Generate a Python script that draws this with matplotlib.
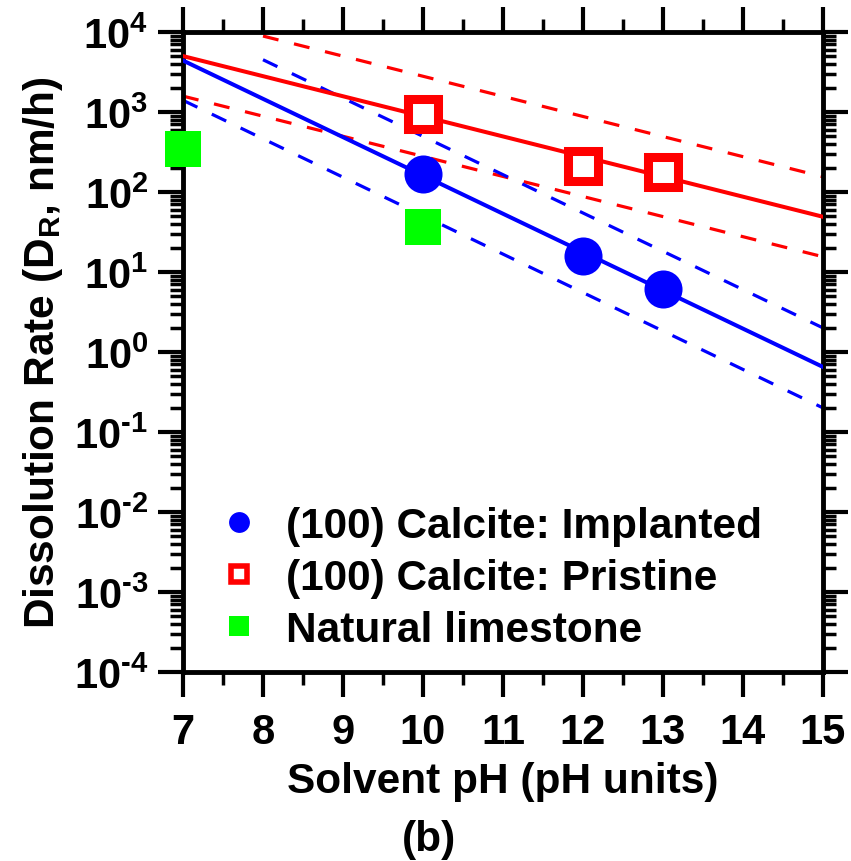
import numpy as np
import matplotlib
matplotlib.use('Agg')
import matplotlib.pyplot as plt
from matplotlib.ticker import FuncFormatter, LogLocator, MultipleLocator
from matplotlib.lines import Line2D

plt.rcParams['font.family'] = ['Liberation Sans', 'DejaVu Sans']
plt.rcParams['font.weight'] = 'bold'
plt.rcParams['mathtext.fontset'] = 'custom'
plt.rcParams['mathtext.rm'] = 'Liberation Sans:bold'
plt.rcParams['mathtext.bf'] = 'Liberation Sans:bold'
plt.rcParams['mathtext.it'] = 'Liberation Sans:bold'
plt.rcParams['mathtext.default'] = 'bf'

# measured points
ph_implanted = [10, 12, 13]
rate_implanted = [168, 16.0, 6.2]
ph_pristine = [10, 12, 13]
rate_pristine = [950, 212, 180]
ph_limestone = [7, 10]
rate_limestone = [345, 36]

# fit lines (end points) and +/- bands
fit_x = [7, 15]
fit_implanted = [4400, 0.65]
fit_pristine = [5000, 49]
band_x_upper = [8, 15]
band_x_lower = [7, 15]
implanted_upper = [4500, 2.0]
implanted_lower = [1400, 0.2]
pristine_upper = [8900, 155]
pristine_lower = [1580, 15.5]

blue = '#0000FF'
red = '#FF0000'
green = '#00FF00'


def log_label(v, pos):
    e = int(round(np.log10(v)))
    if e < 0:
        return r'$\mathbf{10^{\text{-}%d}}$' % (-e)
    return r'$\mathbf{10^{%d}}$' % e


fig = plt.figure(figsize=(8.51, 8.62), dpi=100)
ax = fig.add_axes([183/851, 1-673/862, 640/851, 640/862])

ax.plot(fit_x, fit_pristine, color=red, lw=2.9, zorder=3)
ax.plot(fit_x, fit_implanted, color=blue, lw=2.9, zorder=3)
ax.plot(band_x_upper, pristine_upper, color=red, lw=2.3, dashes=(5, 5), zorder=2)
ax.plot(band_x_lower, pristine_lower, color=red, lw=2.3, dashes=(5, 5), zorder=2)
ax.plot(band_x_upper, implanted_upper, color=blue, lw=2.3, dashes=(5, 5), zorder=2)
ax.plot(band_x_lower, implanted_lower, color=blue, lw=2.3, dashes=(5, 5), zorder=2)

ax.plot(ph_implanted, rate_implanted, 'o', color=blue, ms=27.4, mew=0, zorder=5)
ax.plot(ph_pristine, rate_pristine, 's', mfc='white', mec=red, ms=21, mew=6.5, zorder=5)
ax.plot(ph_limestone, rate_limestone, 's', color=green, ms=26.6, mew=0, zorder=6, clip_on=False)

ax.set_yscale('log')
ax.set_xlim(7, 15)
ax.set_ylim(1e-4, 1e4)
ax.xaxis.set_major_locator(MultipleLocator(1))
ax.xaxis.set_minor_locator(MultipleLocator(0.5))
ax.yaxis.set_major_locator(LogLocator(base=10, numticks=20))
ax.yaxis.set_minor_locator(LogLocator(base=10, subs=np.arange(2, 10), numticks=20))
ax.yaxis.set_major_formatter(FuncFormatter(log_label))

for s in ax.spines.values():
    s.set_linewidth(3.5)
ax.tick_params(which='both', direction='out', top=True, right=True, labeltop=False, labelright=False)
ax.tick_params(which='major', length=18, width=3)
ax.tick_params(which='minor', length=9.5, width=2.5)
ax.tick_params(axis='x', which='major', labelsize=30, pad=11)
ax.tick_params(axis='y', which='major', labelsize=30, pad=7)

ax.set_xlabel('Solvent pH (pH units)', fontsize=30.5, fontweight='bold', labelpad=6)
ax.set_ylabel(r'Dissolution Rate (D$_{\mathbf{R}}$, nm/h)', fontsize=30.5, fontweight='bold', labelpad=6)

handles = [
    Line2D([], [], ls='none', marker='o', color=blue, ms=15, mew=0),
    Line2D([], [], ls='none', marker='s', mfc='white', mec=red, ms=11, mew=4),
    Line2D([], [], ls='none', marker='s', color=green, ms=15, mew=0),
]
labels = ['(100) Calcite: Implanted', '(100) Calcite: Pristine', 'Natural limestone']
ax.legend(handles, labels, loc='lower left', bbox_to_anchor=(0.058, 0.035), frameon=False,
          fontsize=30.5, handlelength=0.9, handletextpad=0.65, labelspacing=0.28,
          borderpad=0, borderaxespad=0)

fig.text(429/851, 1-840/862, '(b)', fontsize=30.5, fontweight='bold', ha='center', va='center')

fig.savefig('out.png', dpi=100)
